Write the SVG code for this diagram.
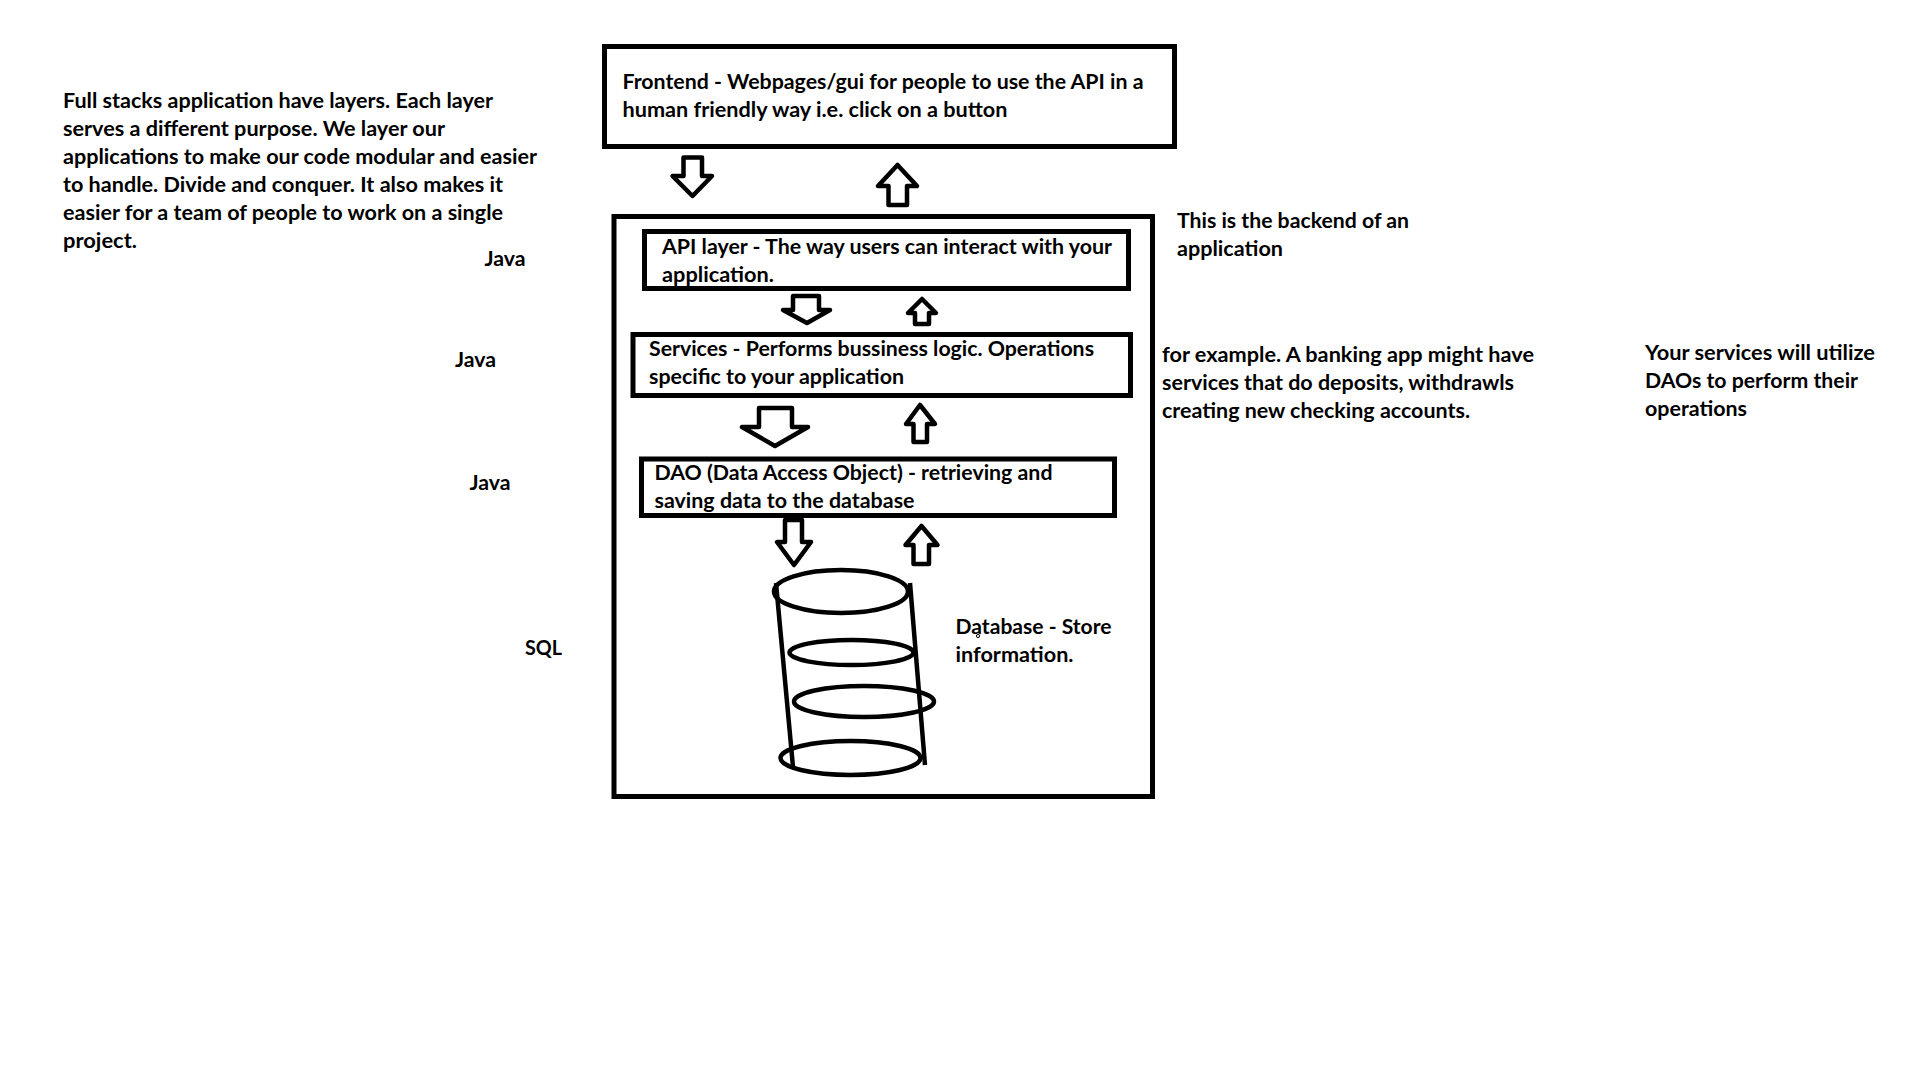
<svg xmlns="http://www.w3.org/2000/svg" width="1920" height="1080" viewBox="0 0 1920 1080">
<style>
.t{font-family:"Lato","Open Sans","Liberation Sans",sans-serif;font-weight:700;font-size:21.4px;fill:#000}
.b{fill:#fff;stroke:#000;stroke-width:5}
.a{fill:#fff;stroke:#000;stroke-width:4.5;stroke-linejoin:round}
.c{fill:none;stroke:#000;stroke-width:4.5}
</style>
<rect width="1920" height="1080" fill="#fff"/>
<g id="backend"><rect class="b" x="614" y="216.5" width="538.5" height="580"/></g>
<g id="frontend"><rect class="b" x="604.5" y="46.5" width="570" height="100"/>
<text class="t" x="622.5" y="89" textLength="521" lengthAdjust="spacingAndGlyphs">Frontend - Webpages/gui for people to use the API in a</text>
<text class="t" x="622.5" y="117" textLength="385" lengthAdjust="spacingAndGlyphs">human friendly way i.e. click on a button</text></g>
<g id="api"><rect class="b" x="644.5" y="231.5" width="484" height="57"/>
<text class="t" x="662" y="254" textLength="450" lengthAdjust="spacingAndGlyphs">API layer - The way users can interact with your</text>
<text class="t" x="662" y="282" textLength="112" lengthAdjust="spacingAndGlyphs">application.</text></g>
<g id="services"><rect class="b" x="633" y="334.5" width="497.5" height="61"/>
<text class="t" x="649" y="356" textLength="445" lengthAdjust="spacingAndGlyphs">Services - Performs bussiness logic. Operations</text>
<text class="t" x="649" y="384" textLength="255" lengthAdjust="spacingAndGlyphs">specific to your application</text></g>
<g id="dao"><rect class="b" x="641.5" y="459" width="473" height="56.5"/>
<text class="t" x="654.5" y="480" textLength="398" lengthAdjust="spacingAndGlyphs">DAO (Data Access Object) - retrieving and</text>
<text class="t" x="654.5" y="508" textLength="260" lengthAdjust="spacingAndGlyphs">saving data to the database</text></g>
<g id="database">
<path class="c" d="M776 583L793 767M910 583L925 765"/>
<ellipse class="c" cx="841" cy="591.5" rx="67" ry="21.5"/>
<ellipse class="c" cx="851.5" cy="652.5" rx="62" ry="12.5"/>
<ellipse class="c" cx="864" cy="701.5" rx="70" ry="15.5"/>
<ellipse class="c" cx="850.5" cy="758" rx="70" ry="17"/>
<text class="t" x="955.5" y="634" textLength="156" lengthAdjust="spacingAndGlyphs">Database - Store</text>
<text class="t" x="955.5" y="662" textLength="118" lengthAdjust="spacingAndGlyphs">information.</text>
<circle cx="978" cy="636" r="1.6" fill="#fff" stroke="#000" stroke-width="1"/>
</g>
<g id="connectors">
<path class="a" d="M683.5 157.5H702V176H712L692.5 196L672.5 176H683.5Z"/>
<path class="a" d="M897.5 165L917 186H907V205H888.5V186H878Z"/>
<path class="a" d="M793 296H819V310H830L807 323L783 310H793Z"/>
<path class="a" d="M922 299L936 313H929V324H915V313H908Z"/>
<path class="a" d="M759 408H792V427H808L775 446L742 427H759Z"/>
<path class="a" d="M920 405L935 424H927V442H913.5V424H906Z"/>
<path class="a" d="M785 520H802V542H811L794 565L777 542H785Z"/>
<path class="a" d="M921.5 526L937.5 545H929V564H913.5V545H905.5Z"/>
</g>
<g id="notes">
<text class="t" x="63" y="108" textLength="430" lengthAdjust="spacingAndGlyphs">Full stacks application have layers. Each layer</text>
<text class="t" x="63" y="136" textLength="382" lengthAdjust="spacingAndGlyphs">serves a different purpose. We layer our</text>
<text class="t" x="63" y="164" textLength="474" lengthAdjust="spacingAndGlyphs">applications to make our code modular and easier</text>
<text class="t" x="63" y="192" textLength="440" lengthAdjust="spacingAndGlyphs">to handle. Divide and conquer. It also makes it</text>
<text class="t" x="63" y="220" textLength="440" lengthAdjust="spacingAndGlyphs">easier for a team of people to work on a single</text>
<text class="t" x="63" y="248" textLength="74" lengthAdjust="spacingAndGlyphs">project.</text>
<text class="t" x="484.5" y="266" textLength="41" lengthAdjust="spacingAndGlyphs">Java</text>
<text class="t" x="455" y="367" textLength="41" lengthAdjust="spacingAndGlyphs">Java</text>
<text class="t" x="469.5" y="490" textLength="41" lengthAdjust="spacingAndGlyphs">Java</text>
<text class="t" x="525" y="655" textLength="37" lengthAdjust="spacingAndGlyphs">SQL</text>
<text class="t" x="1177" y="228" textLength="232" lengthAdjust="spacingAndGlyphs">This is the backend of an</text>
<text class="t" x="1177" y="256" textLength="106" lengthAdjust="spacingAndGlyphs">application</text>
<text class="t" x="1162" y="362" textLength="372" lengthAdjust="spacingAndGlyphs">for example. A banking app might have</text>
<text class="t" x="1162" y="390" textLength="352" lengthAdjust="spacingAndGlyphs">services that do deposits, withdrawls</text>
<text class="t" x="1162" y="418" textLength="308" lengthAdjust="spacingAndGlyphs">creating new checking accounts.</text>
<text class="t" x="1645" y="360" textLength="230" lengthAdjust="spacingAndGlyphs">Your services will utilize</text>
<text class="t" x="1645" y="388" textLength="213" lengthAdjust="spacingAndGlyphs">DAOs to perform their</text>
<text class="t" x="1645" y="416" textLength="102" lengthAdjust="spacingAndGlyphs">operations</text>
</g>
</svg>
